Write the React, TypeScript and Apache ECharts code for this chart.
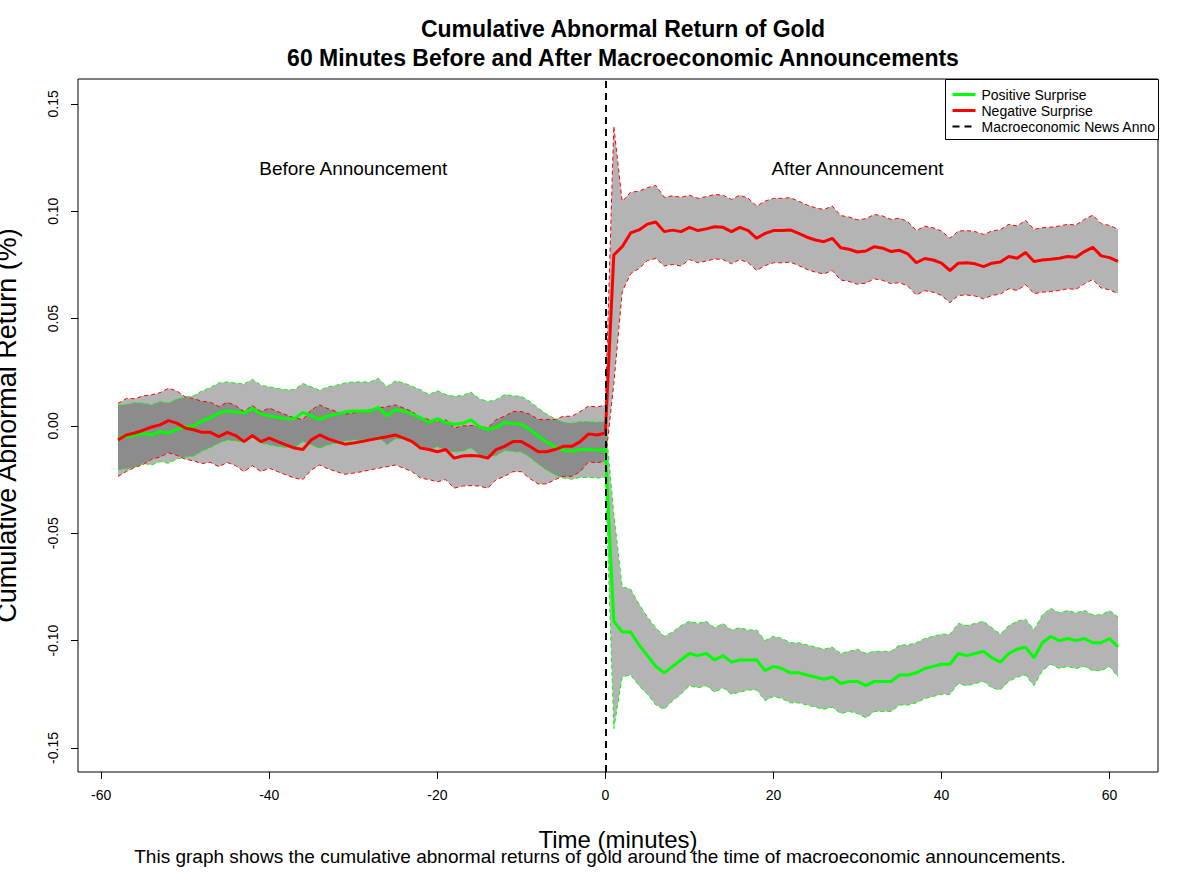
import { useEffect, useRef } from 'react';
import * as echarts from 'echarts';

const minutes: number[] = Array.from({ length: 120 }, (_, i) => i - 58);

const positiveMean: number[] = [
  -0.0054, -0.005, -0.0042, -0.0034, -0.0042, -0.0026, -0.0034, -0.0015, -0.0005, 0,
  0.0023, 0.0039, 0.006, 0.007, 0.0065, 0.006, 0.0082, 0.0055, 0.0047, 0.0039,
  0.0034, 0.0034, 0.0063, 0.0047, 0.0031, 0.0047, 0.0055, 0.0065, 0.007,
  0.007, 0.007, 0.0087, 0.0047, 0.0075, 0.007, 0.0055, 0.0039, 0.0016, 0.0034,
  0.0016, 0.0008, 0.0012, 0.0028, -0.0003, -0.0016, -0.0008, 0.0016, 0.0011, 0.0008,
  -0.0016, -0.0047, -0.0075, -0.0097, -0.0113, -0.0118, -0.011, -0.011, -0.0113, -0.011,
  -0.091, -0.096, -0.096, -0.102, -0.107, -0.112, -0.115, -0.112, -0.109, -0.106,
  -0.107, -0.106, -0.109, -0.107, -0.11, -0.109, -0.109, -0.109, -0.114, -0.112,
  -0.113, -0.115, -0.115, -0.116, -0.117, -0.118, -0.117, -0.12, -0.119, -0.119,
  -0.121, -0.119, -0.119, -0.119, -0.116, -0.116, -0.115, -0.113, -0.112, -0.111,
  -0.111, -0.106, -0.107, -0.106, -0.105, -0.108, -0.11, -0.106, -0.104, -0.103,
  -0.108, -0.101, -0.098, -0.1, -0.099, -0.1, -0.099, -0.101, -0.101, -0.099,
  -0.103,
];

const positiveHalf: number[] = [
  0.015, 0.015, 0.015, 0.014, 0.014, 0.014, 0.014, 0.014, 0.014, 0.014,
  0.014, 0.014, 0.014, 0.0135, 0.0135, 0.0135, 0.0135, 0.0135, 0.0135, 0.0135,
  0.0135, 0.0135, 0.0135, 0.0135, 0.0135, 0.0135, 0.0135, 0.0135, 0.0135,
  0.0135, 0.0135, 0.0135, 0.0135, 0.0135, 0.013, 0.013, 0.013, 0.013, 0.013,
  0.013, 0.013, 0.013, 0.013, 0.013, 0.013, 0.013, 0.013, 0.013, 0.013,
  0.013, 0.013, 0.013, 0.013, 0.013, 0.013, 0.013, 0.013, 0.013, 0.013,
  0.05, 0.021, 0.02, 0.019, 0.018, 0.018, 0.017, 0.016, 0.016, 0.015,
  0.015, 0.015, 0.015, 0.015, 0.015, 0.015, 0.014, 0.014, 0.014, 0.014,
  0.014, 0.014, 0.014, 0.014, 0.014, 0.014, 0.014, 0.014, 0.014, 0.015,
  0.015, 0.014, 0.014, 0.014, 0.014, 0.014, 0.014, 0.014, 0.014, 0.014,
  0.014, 0.014, 0.014, 0.014, 0.014, 0.014, 0.013, 0.013, 0.013, 0.013,
  0.013, 0.013, 0.013, 0.013, 0.013, 0.013, 0.013, 0.013, 0.013, 0.013,
  0.014,
];

const negativeMean: number[] = [
  -0.0065, -0.0042, -0.0033, -0.002, -0.0005, 0.0005, 0.0025, 0.0013, -0.001, -0.0018,
  -0.003, -0.003, -0.005, -0.003, -0.0045, -0.0073, -0.0045, -0.0073, -0.0057, -0.0073,
  -0.0088, -0.0103, -0.011, -0.0065, -0.0042, -0.006, -0.0073, -0.0085, -0.008,
  -0.0073, -0.0065, -0.0057, -0.005, -0.0042, -0.0057, -0.0073, -0.0103, -0.011, -0.012,
  -0.011, -0.015, -0.014, -0.0138, -0.014, -0.015, -0.011, -0.0095, -0.0073, -0.0073,
  -0.0095, -0.012, -0.012, -0.011, -0.0095, -0.0095, -0.0073, -0.0037, -0.0042, -0.0033,
  0.0796, 0.0835, 0.0899, 0.0913, 0.094, 0.095, 0.0905, 0.0912, 0.0905, 0.0925,
  0.091, 0.0918, 0.0928, 0.0925, 0.0905, 0.0925, 0.091, 0.0874, 0.0897, 0.091,
  0.091, 0.0913, 0.0897, 0.0879, 0.0866, 0.0858, 0.0874, 0.083, 0.0823, 0.081,
  0.0815, 0.0835, 0.0828, 0.0812, 0.0818, 0.0801, 0.076, 0.078, 0.0773, 0.0758,
  0.0724, 0.0758, 0.076, 0.0755, 0.0742, 0.0758, 0.0764, 0.0789, 0.0781, 0.0808,
  0.0766, 0.0773, 0.0776, 0.0781, 0.0789, 0.0786, 0.0812, 0.0832, 0.0792, 0.0784,
  0.0766,
];

const negativeHalf: number[] = [
  0.017, 0.017, 0.016, 0.016, 0.015, 0.015, 0.015, 0.015, 0.0145, 0.0145,
  0.0145, 0.014, 0.014, 0.014, 0.014, 0.014, 0.014, 0.014, 0.014, 0.014,
  0.014, 0.014, 0.014, 0.014, 0.014, 0.014, 0.014, 0.014, 0.014,
  0.014, 0.014, 0.014, 0.014, 0.014, 0.014, 0.014, 0.014, 0.014, 0.014,
  0.014, 0.014, 0.014, 0.014, 0.014, 0.014, 0.014, 0.014, 0.014, 0.014,
  0.015, 0.015, 0.015, 0.014, 0.014, 0.014, 0.014, 0.013, 0.013, 0.013,
  0.06, 0.021, 0.019, 0.018, 0.017, 0.017, 0.016, 0.016, 0.016, 0.015,
  0.015, 0.015, 0.015, 0.015, 0.015, 0.015, 0.015, 0.015, 0.015, 0.015,
  0.015, 0.015, 0.015, 0.015, 0.015, 0.015, 0.015, 0.015, 0.015, 0.015,
  0.015, 0.015, 0.015, 0.015, 0.015, 0.015, 0.015, 0.015, 0.015, 0.015,
  0.015, 0.015, 0.015, 0.015, 0.015, 0.015, 0.015, 0.015, 0.015, 0.015,
  0.015, 0.015, 0.015, 0.015, 0.015, 0.015, 0.015, 0.015, 0.015, 0.015,
  0.015,
];

const xTicks: number[] = [-60, -40, -20, 0, 20, 40, 60];
const yTicks: number[] = [-0.15, -0.1, -0.05, 0, 0.05, 0.1, 0.15];

const bandFill = 'rgba(95,95,95,0.47)';
const green = '#00ff00';
const red = '#ff0000';
const font = 'Liberation Sans, Arial, sans-serif';

const bandSeries = (mean: number[], half: number[]) => ({
  type: 'custom',
  data: [[minutes[0], mean[0]]],
  silent: true,
  renderItem: (_params: any, api: any) => {
    const upper = minutes.map((t, i) => api.coord([t, mean[i] + half[i]]));
    const lower = minutes.map((t, i) => api.coord([t, mean[i] - half[i]])).reverse();
    return {
      type: 'polygon',
      shape: { points: upper.concat(lower) },
      style: { fill: bandFill },
    };
  },
});

const edgeSeries = (mean: number[], half: number[], sign: number, color: string) => ({
  type: 'line',
  data: minutes.map((t, i) => [t, mean[i] + sign * half[i]]),
  symbol: 'none',
  silent: true,
  lineStyle: { color, width: 1, type: [4, 3] },
});

const App = () => {
  const chartRef = useRef<HTMLDivElement>(null);

  useEffect(() => {
    document.body.style.margin = '0';
    if (!chartRef.current) return;
    const chart = echarts.init(chartRef.current, undefined, { renderer: 'svg' });

    const option: any = {
      animation: false,
      backgroundColor: '#ffffff',
      textStyle: { fontFamily: font },
      title: {
        text: 'Cumulative Abnormal Return of Gold\n60 Minutes Before and After Macroeconomic Announcements',
        left: 618,
        top: 9,
        textAlign: 'center',
        textStyle: { fontSize: 23, fontWeight: 'bold', color: '#000', lineHeight: 29, fontFamily: font },
      },
      grid: {
        left: 78,
        right: 42,
        top: 79,
        bottom: 100,
        show: true,
        borderColor: '#000',
        borderWidth: 1,
        containLabel: false,
        outerBoundsMode: 'none',
      },
      xAxis: {
        type: 'value',
        min: -62.76,
        max: 65.76,
        name: 'Time (minutes)',
        nameLocation: 'middle',
        nameGap: 55,
        nameTextStyle: { fontSize: 24, color: '#000', fontFamily: font },
        axisLine: { show: false, onZero: false },
        splitLine: { show: false },
        axisTick: { show: true, length: 7, lineStyle: { color: '#000' }, customValues: xTicks },
        axisLabel: { fontSize: 14, color: '#000', margin: 16, customValues: xTicks, formatter: (v: number) => String(v) },
      },
      yAxis: {
        type: 'value',
        min: -0.1612,
        max: 0.1616,
        name: 'Cumulative Abnormal Return (%)',
        nameLocation: 'middle',
        nameGap: 58,
        nameRotate: 90,
        nameTextStyle: { fontSize: 27, color: '#000', fontFamily: font },
        axisLine: { show: false, onZero: false },
        splitLine: { show: false },
        axisTick: { show: true, length: 7, lineStyle: { color: '#000' }, customValues: yTicks },
        axisLabel: {
          fontSize: 14,
          color: '#000',
          rotate: 90,
          margin: 18,
          customValues: yTicks,
          formatter: (v: number) => v.toFixed(2),
        },
      },
      series: [
        bandSeries(positiveMean, positiveHalf),
        edgeSeries(positiveMean, positiveHalf, 1, green),
        edgeSeries(positiveMean, positiveHalf, -1, green),
        bandSeries(negativeMean, negativeHalf),
        edgeSeries(negativeMean, negativeHalf, 1, red),
        edgeSeries(negativeMean, negativeHalf, -1, red),
        {
          type: 'line',
          data: minutes.map((t, i) => [t, positiveMean[i]]),
          symbol: 'none',
          lineStyle: { color: green, width: 3 },
        },
        {
          type: 'line',
          data: minutes.map((t, i) => [t, negativeMean[i]]),
          symbol: 'none',
          lineStyle: { color: red, width: 3 },
          markLine: {
            silent: true,
            symbol: 'none',
            label: { show: false },
            lineStyle: { color: '#000', width: 2, type: [7, 5] },
            data: [{ xAxis: 0 }],
          },
        },
        {
          type: 'scatter',
          symbolSize: 0,
          silent: true,
          itemStyle: { opacity: 1 },
          data: [
            { value: [-30, 0.12], name: 'Before Announcement' },
            { value: [30, 0.12], name: 'After Announcement' },
          ],
          label: {
            show: true,
            position: 'inside',
            formatter: (p: any) => p.name,
            fontSize: 19,
            color: '#000',
            textBorderWidth: 0,
            fontFamily: font,
          },
        },
      ],
      graphic: [
        {
          type: 'group',
          left: 945,
          top: 79,
          children: [
            { type: 'rect', shape: { x: 0, y: 0, width: 213, height: 60 }, style: { fill: '#fff', stroke: '#000', lineWidth: 1 } },
            { type: 'line', shape: { x1: 7, y1: 15, x2: 30, y2: 15 }, style: { stroke: green, lineWidth: 3 } },
            { type: 'line', shape: { x1: 7, y1: 31, x2: 30, y2: 31 }, style: { stroke: red, lineWidth: 3 } },
            { type: 'line', shape: { x1: 7, y1: 47, x2: 30, y2: 47 }, style: { stroke: '#000', lineWidth: 2, lineDash: [7, 5] } },
            { type: 'text', x: 36, y: 15, style: { text: 'Positive Surprise', fontSize: 14, fontFamily: font, fill: '#000', verticalAlign: 'middle' } },
            { type: 'text', x: 36, y: 31, style: { text: 'Negative Surprise', fontSize: 14, fontFamily: font, fill: '#000', verticalAlign: 'middle' } },
            {
              type: 'text',
              x: 36,
              y: 47,
              style: {
                text: 'Macroeconomic News Announcement',
                fontSize: 14,
                fontFamily: font,
                fill: '#000',
                verticalAlign: 'middle',
                width: 177,
                overflow: 'truncate',
                ellipsis: '',
              },
            },
          ],
        },
        {
          type: 'text',
          left: 'center',
          top: 847,
          style: {
            text: 'This graph shows the cumulative abnormal returns of gold around the time of macroeconomic announcements.',
            fontSize: 19,
            fontFamily: font,
            fill: '#000',
          },
        },
      ],
    };

    chart.setOption(option);
    return () => {
      chart.dispose();
    };
  }, []);

  return <div ref={chartRef} style={{ width: '1200px', height: '872px' }} />;
};

export default App;
